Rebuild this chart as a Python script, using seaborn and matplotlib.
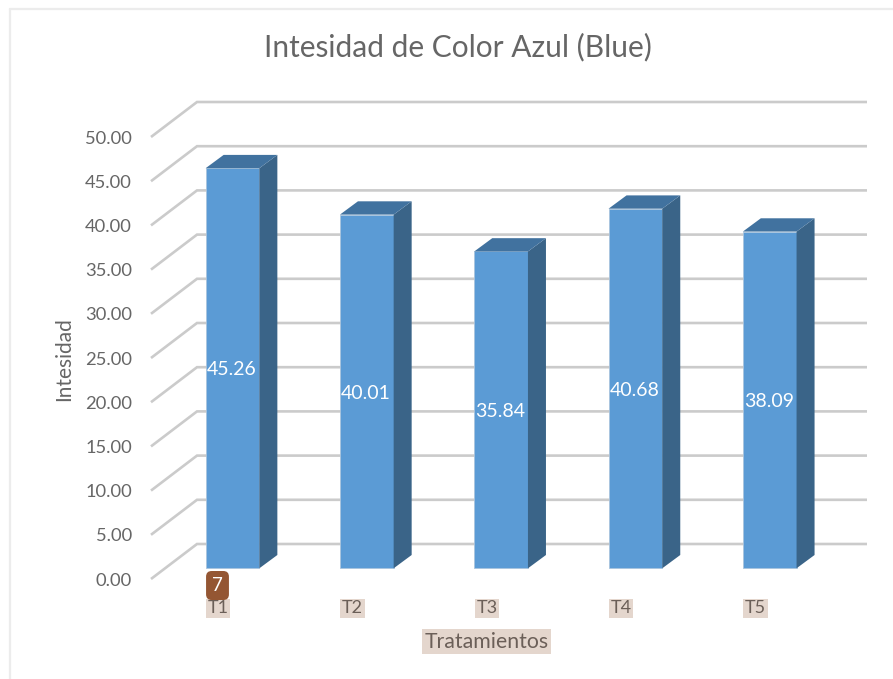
import matplotlib
matplotlib.use("Agg")
import matplotlib.pyplot as plt
from matplotlib.lines import Line2D
from matplotlib.patches import Polygon
import pandas as pd
import seaborn as sns

# Chart values
tratamientos = ["T1", "T2", "T3", "T4", "T5"]
intensidad = [45.26, 40.01, 35.84, 40.68, 38.09]
grid_values = [0, 5, 10, 15, 20, 25, 30, 35, 40, 45, 50]

W, H = 893, 679
sns.set_theme(style="white")
plt.rcParams["font.family"] = ["Lato", "DejaVu Sans"]

TEXT = "#666666"
FRONT = "#5b9bd5"
SIDE = "#3a6488"
TOP = "#41729f"
GRID = "#cbcbcb"
LABEL_BG = "#e4d6cd"
LABEL_TEXT = "#6b5f58"

fig = plt.figure(figsize=(W / 100, H / 100), dpi=100, facecolor="white")

# Axes frame in figure pixels; scales chosen so one value unit is 8.84 px
left, right, top, bottom = 151, 885, 90, 590
ax = fig.add_axes([left / W, 1 - bottom / H, (right - left) / W, (bottom - top) / H])

PX_PER_UNIT = 8.84
PX_PER_CAT = 134.3
base_px, first_px = 568.3, 232.5

df = pd.DataFrame({"tratamiento": tratamientos, "intensidad": intensidad})
sns.barplot(data=df, x="tratamiento", y="intensidad", color=FRONT, saturation=1,
            width=0.4, ax=ax, zorder=3, edgecolor="#a9c4de", linewidth=0.6)

ax.set_xlim((left - first_px) / PX_PER_CAT, (right - first_px) / PX_PER_CAT)
ax.set_ylim((base_px - bottom) / PX_PER_UNIT, (base_px - top) / PX_PER_UNIT)

# Depth of the pseudo-3D projection, in data units
depth_x = 18 / PX_PER_CAT
depth_y = 13.3 / PX_PER_UNIT
half = 0.2

for i, v in enumerate(intensidad):
    ax.add_patch(Polygon([(i + half, 0), (i + half + depth_x, depth_y),
                          (i + half + depth_x, v + depth_y), (i + half, v)],
                         closed=True, facecolor=SIDE, edgecolor="none", zorder=3))
    ax.add_patch(Polygon([(i - half, v), (i + half, v),
                          (i + half + depth_x, v + depth_y), (i - half + depth_x, v + depth_y)],
                         closed=True, facecolor=TOP, edgecolor="none", zorder=3))

# Back wall gridlines and the slanted side wall
wall_dy = (base_px - 544) / PX_PER_UNIT
front_dy = (base_px - 579) / PX_PER_UNIT
wall_x = (197 - first_px) / PX_PER_CAT
end_x = (867 - first_px) / PX_PER_CAT
edge_x = (left - first_px) / PX_PER_CAT
for g in grid_values:
    ax.plot([edge_x, wall_x, end_x], [g + front_dy, g + wall_dy, g + wall_dy],
            color=GRID, lw=1.9, solid_capstyle="butt", solid_joinstyle="miter",
            zorder=1, clip_on=False)

value_labels = ax.bar_label(ax.containers[0], fmt="%.2f", label_type="center",
                            color="white", fontsize=14, zorder=5)
for lab in value_labels:
    lab.xyann = (-0.7, -1.2)

sns.despine(ax=ax, left=True, bottom=True, top=True, right=True)
ax.set_facecolor("none")

ax.set_yticks([g + front_dy for g in grid_values])
ax.set_yticklabels([f"{g:.2f}" for g in grid_values], color=TEXT, fontsize=13.2)
ax.tick_params(axis="y", length=0, pad=13.7)

ax.set_xticks([i - 14.2 / PX_PER_CAT for i in range(len(tratamientos))])
ax.set_xticklabels(tratamientos, color=LABEL_TEXT, fontsize=13)
ax.tick_params(axis="x", length=0, pad=7.5)
for lab in ax.get_xticklabels():
    lab.set_bbox(dict(facecolor=LABEL_BG, edgecolor="none", pad=1.2))

ax.set_xlabel("")
ax.set_ylabel("")
fig.text(486.5 / W, 1 - 641.5 / H, "Tratamientos", ha="center", va="center", color=LABEL_TEXT,
         fontsize=15.3, bbox=dict(facecolor=LABEL_BG, edgecolor="none", pad=1.6))
fig.text(64 / W, 1 - 359 / H, "Intesidad", ha="center", va="center", rotation=90,
         color=TEXT, fontsize=15)
fig.text(458 / W, 1 - 47 / H, "Intesidad de Color Azul (Blue)", ha="center", va="center",
         color=TEXT, fontsize=21.5)

# Numbered badge under the first bar
fig.text(217.5 / W, 1 - 585.5 / H, "7", ha="center", va="center", color="white", fontsize=13.5,
         bbox=dict(boxstyle="round,pad=0.32,rounding_size=0.3", facecolor="#945633", edgecolor="none"),
         zorder=6)

# Thin outer border along the top and left edges
for xs, ys in (([10, 10], [H, 9]), ([10, W], [9, 9])):
    fig.add_artist(Line2D([x / W for x in xs], [1 - y / H for y in ys],
                          color="#ececec", lw=1.6, transform=fig.transFigure))

fig.savefig("out.png", dpi=100, facecolor="white")
